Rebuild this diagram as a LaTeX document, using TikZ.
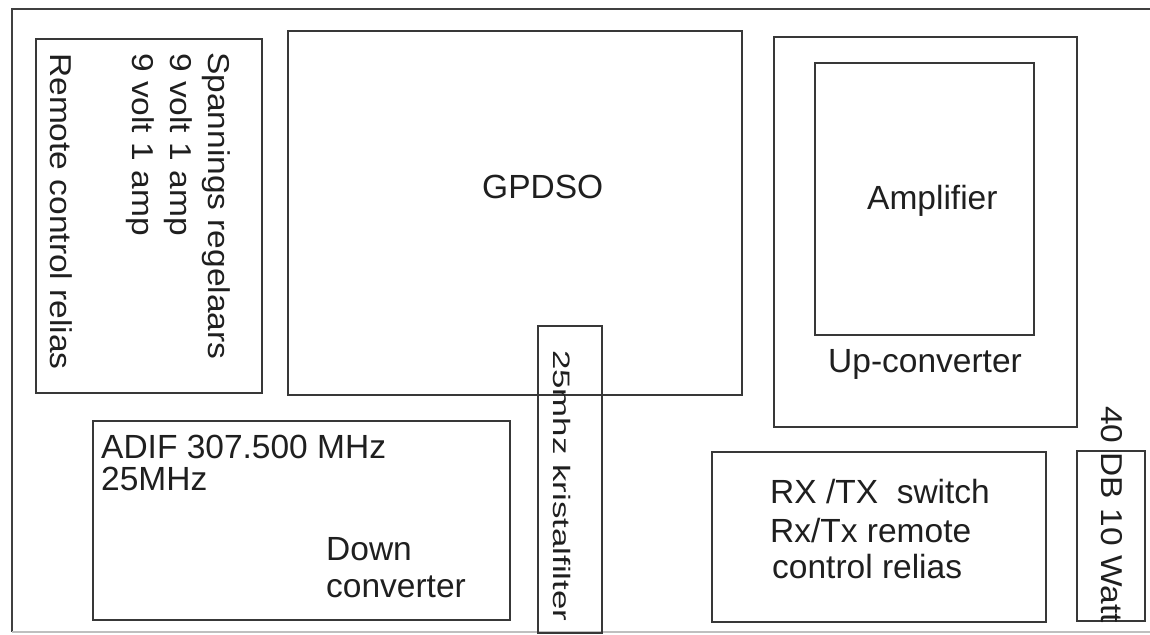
\documentclass[tikz,border=0pt]{standalone}
\usepackage{fontspec}
\setmainfont{Liberation Sans}
\usepackage{graphicx}
\begin{document}
\begin{tikzpicture}[x=1pt,y=-1pt]
\tikzset{
  box/.style={draw=black!78, line width=1.6pt, inner sep=0pt, anchor=north west},
  lbl/.style={inner sep=0pt, anchor=base west, text=black!88, font=\fontsize{33.5}{38}\selectfont},
  vlbl/.style={lbl, rotate=-90},
  frame/.style={draw=black!75, line width=1.6pt},
}
\useasboundingbox (0,0) rectangle (1150,634);
\fill[white] (0,0) rectangle (1150,634);
% outer frame
\coordinate (ftr) at (1152,9);
\coordinate (ftl) at (12,9);
\coordinate (fbl) at (12,632);
\coordinate (fbr) at (1152,632);
\draw[frame] (ftr) -- (ftl) -- (fbl);
\draw[frame, draw=black!25, line width=1.2pt] (fbl) -- (fbr);
% boxes
\node[box, minimum width=226pt, minimum height=354pt] (spann) at (35,38) {};
\node[box, minimum width=454pt, minimum height=364pt] (gpdso) at (287,30) {};
\node[box, minimum width=303pt, minimum height=390pt] (upconv) at (773,36) {};
\node[box, minimum width=219pt, minimum height=272pt] (amp) at (814,62) {};
\node[box, minimum width=64pt, minimum height=307pt] (kristal) at (537,325) {};
\node[box, minimum width=417pt, minimum height=199pt] (adif) at (92,420) {};
\node[box, minimum width=334pt, minimum height=170pt] (rxtx) at (711,451) {};
\node[box, minimum width=68pt, minimum height=170pt] (db) at (1076,450) {};
% horizontal labels
\node[lbl] (tgpdso) at (482,198) {GPDSO};
\node[lbl] (tamp) at (867,209) {Amplifier};
\node[lbl] (tup) at (828,372) {Up-converter};
\node[lbl] (tadif) at (101,458) {ADIF 307.500 MHz};
\node[lbl] (t25) at (101,490) {25MHz};
\node[lbl] (tdown) at (326,560) {Down};
\node[lbl] (tconv) at (326,597) {converter};
\node[lbl] (trx1) at (770,503) {RX /TX\ \ switch};
\node[lbl] (trx2) at (770,542) {Rx/Tx remote};
\node[lbl] (trx3) at (772,578) {control relias};
% vertical labels
\node[vlbl] (tsp1) at (208,52) {\scalebox{1}[0.9]{Spannings regelaars}};
\node[vlbl] (tsp2) at (170,53) {\scalebox{1}[0.9]{9 volt 1 amp}};
\node[vlbl] (tsp3) at (132,53) {\scalebox{1}[0.9]{9 volt 1 amp}};
\node[vlbl] (trem) at (50,53) {\scalebox{1}[0.9]{Remote control relias}};
\node[vlbl] (tkri) at (553,350) {\scalebox{1.04}[0.71]{25mhz kristalfilter}};
\node[vlbl] (tdb) at (1101,406) {\scalebox{1}[0.9]{40 DB 10 Watt}};
\end{tikzpicture}
\end{document}
